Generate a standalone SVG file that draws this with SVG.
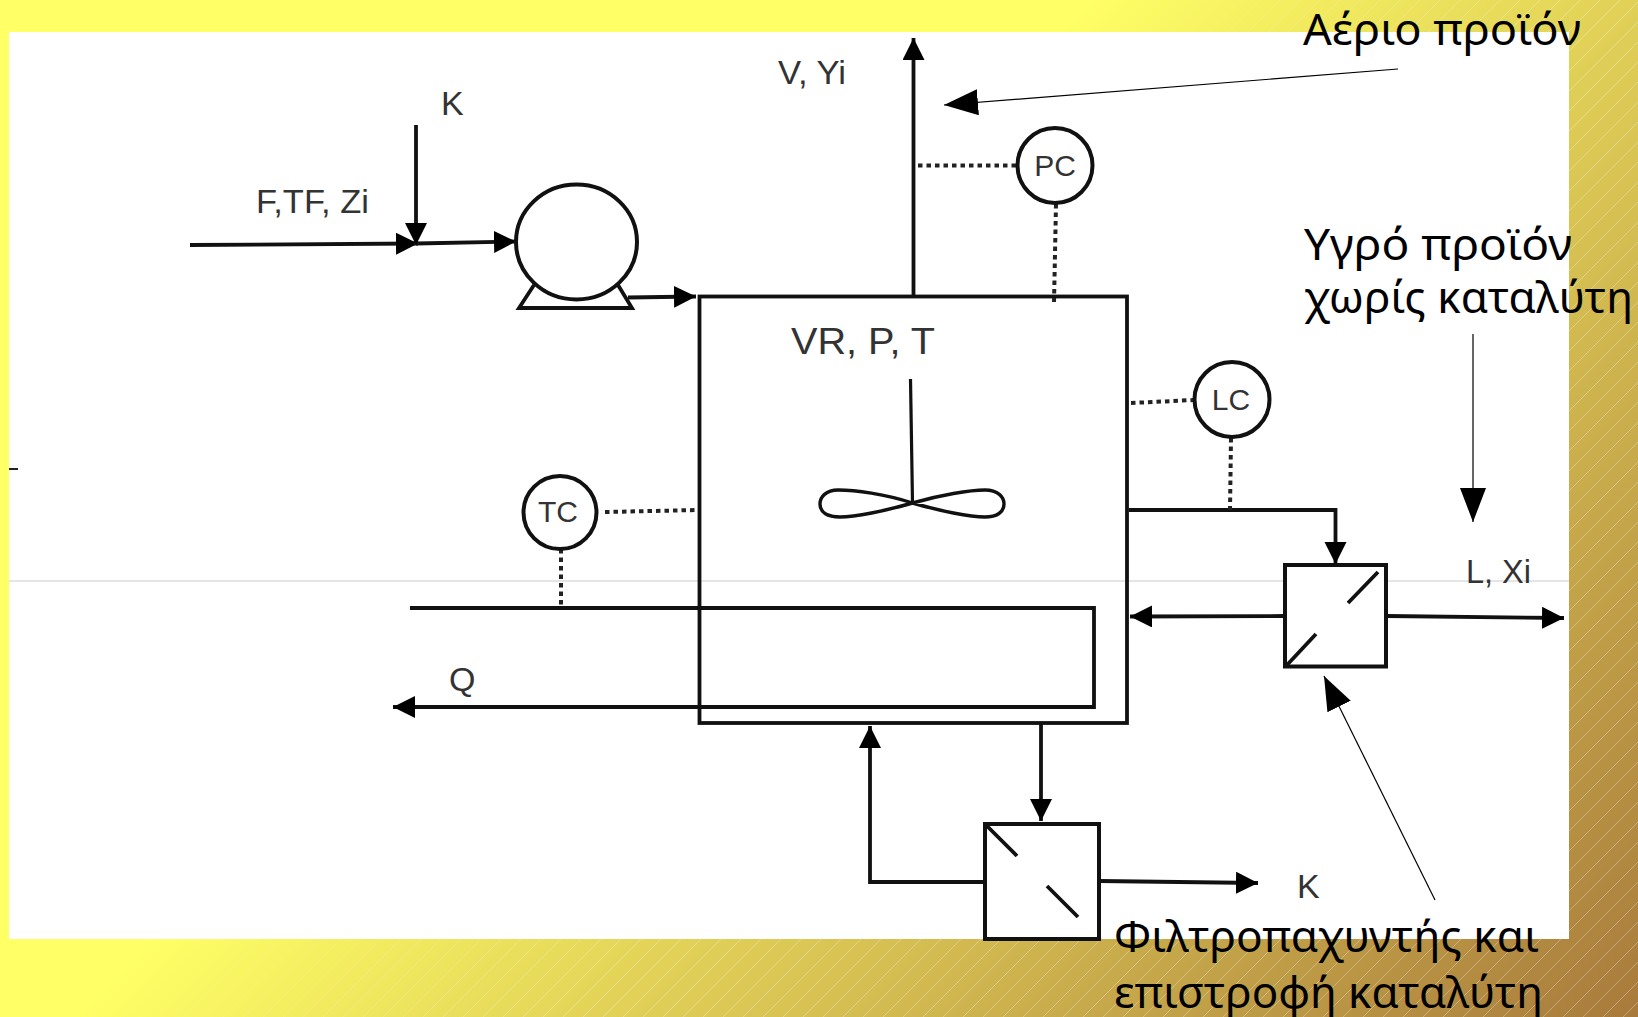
<svg xmlns="http://www.w3.org/2000/svg" width="1638" height="1017" viewBox="0 0 1638 1017">
<style>
.l{fill:none;stroke:#111;stroke-width:3.8}
.d{fill:none;stroke:#222;stroke-width:4;stroke-dasharray:4.500 4}
.t{stroke:#000;stroke-width:1.2;fill:none}
.lb{font-family:"Liberation Sans",sans-serif;fill:#333;font-size:34px}
.gk{font-family:"Noto Sans",sans-serif;fill:#000;font-size:44px}
.c{fill:#fff;stroke:#111;stroke-width:4}
</style>
<defs>
<linearGradient id="bg" gradientUnits="userSpaceOnUse" x1="545" y1="545" x2="1327.500" y2="1327.500">
<stop offset="0" stop-color="#ffff66"/><stop offset="1" stop-color="#a87a3c"/>
</linearGradient>
<pattern id="h" patternUnits="userSpaceOnUse" width="20" height="20">
<path d="M-5 5L5 -5M0 20L20 0M15 25L25 15" stroke="#fff" stroke-opacity="0.3" stroke-width="1"/>
</pattern>
<linearGradient id="fade" gradientUnits="userSpaceOnUse" x1="545" y1="545" x2="800" y2="800">
<stop offset="0" stop-color="#fff" stop-opacity="0"/><stop offset="1" stop-color="#fff" stop-opacity="1"/>
</linearGradient>
<mask id="m" maskUnits="userSpaceOnUse" x="0" y="0" width="1638" height="1017"><rect width="1638" height="1017" fill="url(#fade)"/></mask>
<marker id="a" markerUnits="userSpaceOnUse" markerWidth="24" markerHeight="24" refX="22" refY="11" orient="auto"><path d="M0 0L22 11L0 22Z" fill="#000"/></marker>
<marker id="b" markerUnits="userSpaceOnUse" markerWidth="36" markerHeight="28" refX="34" refY="13" orient="auto"><path d="M0 0L34 13L0 26Z" fill="#000"/></marker>
</defs>
<rect id="background" width="1638" height="1017" fill="url(#bg)"/>
<rect id="hatching" width="1638" height="1017" fill="url(#h)" mask="url(#m)"/>
<rect id="panel" x="9" y="32" width="1560" height="907" fill="#fff"/>
<path id="rule" d="M9 581H1569" stroke="#ccc" stroke-width="1.2"/>
<path id="tick" d="M9 469H18" stroke="#222" stroke-width="2"/>
<g id="connectors">
<path class="l" d="M190 245L418 243.500" marker-end="url(#a)"/>
<path class="l" d="M416 243.500L516 241.500" marker-end="url(#a)"/>
<path class="l" d="M416 125V245" marker-end="url(#a)"/>
<path class="l" d="M628 297.500L696 296.500" marker-end="url(#a)"/>
<path class="l" d="M913.500 297V38" marker-end="url(#a)"/>
<path class="l" d="M1129 510H1335.500V564" marker-end="url(#a)"/>
<path class="l" d="M1284 616L1130 616.500" marker-end="url(#a)"/>
<path class="l" d="M1387 616L1564 618" marker-end="url(#a)"/>
<path class="l" d="M410 608H1094V707H393" marker-end="url(#a)"/>
<path class="l" d="M1041 723V821" marker-end="url(#a)"/>
<path class="l" d="M985 882H870V726" marker-end="url(#a)"/>
<path class="l" d="M1099 881L1258 883" marker-end="url(#a)"/>
<path class="d" d="M918 165.500H1018"/>
<path class="d" d="M1056 204L1054 303"/>
<path class="d" d="M1131 403L1194 400"/>
<path class="d" d="M1231 438L1230 510"/>
<path class="d" d="M605 512L699 510"/>
<path class="d" d="M561 549V607"/>
<path class="t" d="M1398 69L944 105" marker-end="url(#b)"/>
<path class="t" d="M1473 334V522" marker-end="url(#b)"/>
<path class="t" d="M1435 900L1324 676" marker-end="url(#b)"/>
</g>
<g id="vessel">
<rect x="699.500" y="296.500" width="427.500" height="426.500" fill="none" stroke="#111" stroke-width="3.800"/>
<text class="lb" x="791" y="354" textLength="144" lengthAdjust="spacingAndGlyphs" style="font-size:37px">VR, P, T</text>
<path d="M910.500 379L912.500 503" fill="none" stroke="#111" stroke-width="3.200"/>
<path d="M912.500 503C885 494 855 490 838 490C826 490 820 497 820 504C820 512 827 517 840 517C855 517 885 511 912.500 503C940 495 970 490 985 490C998 490 1004 497 1004 504C1004 512 997 517 985 517C970 517 940 511 912.500 503Z" fill="none" stroke="#111" stroke-width="3.400"/>
</g>
<g id="pump">
<ellipse cx="576.500" cy="242" rx="60.500" ry="57.500" class="c"/>
<path d="M534 285L519 308H632L618 285" fill="none" stroke="#111" stroke-width="3.800"/>
</g>
<g id="pc"><circle class="c" cx="1055" cy="165.500" r="37.500"/><text class="lb" x="1055" y="176" text-anchor="middle" style="font-size:30px">PC</text></g>
<g id="lc"><circle class="c" cx="1232" cy="399.500" r="37.500"/><text class="lb" x="1231" y="410" text-anchor="middle" style="font-size:30px">LC</text></g>
<g id="tc"><circle class="c" cx="560" cy="512.500" r="36.500"/><text class="lb" x="558" y="522" text-anchor="middle" style="font-size:30px">TC</text></g>
<g id="filter-right">
<rect class="c" x="1285" y="565" width="101" height="101.500"/>
<path d="M1348 603L1378 572M1287 665L1316 634" class="l"/>
</g>
<g id="filter-bottom">
<rect class="c" x="985" y="824" width="114" height="115"/>
<path d="M987 826L1017 856M1047 886L1078 917" class="l"/>
</g>
<g id="labels">
<text class="lb" x="441" y="115">K</text>
<text class="lb" x="256" y="213" textLength="113" lengthAdjust="spacingAndGlyphs">F,TF, Zi</text>
<text class="lb" x="778" y="84" textLength="68" lengthAdjust="spacingAndGlyphs">V, Yi</text>
<text class="lb" x="449" y="691">Q</text>
<text class="lb" x="1466" y="583" textLength="65" lengthAdjust="spacingAndGlyphs">L, Xi</text>
<text class="lb" x="1297" y="898">K</text>
<text class="gk" x="1303" y="45" textLength="278" lengthAdjust="spacingAndGlyphs">Αέριο προϊόν</text>
<text class="gk" x="1304" y="260" textLength="268" lengthAdjust="spacingAndGlyphs">Υγρό προϊόν</text>
<text class="gk" x="1304" y="313" textLength="329" lengthAdjust="spacingAndGlyphs">χωρίς καταλύτη</text>
<text class="gk" x="1114" y="952" textLength="425" lengthAdjust="spacingAndGlyphs">Φιλτροπαχυντής και</text>
<text class="gk" x="1114" y="1008" textLength="429" lengthAdjust="spacingAndGlyphs">επιστροφή καταλύτη</text>
</g>
</svg>
